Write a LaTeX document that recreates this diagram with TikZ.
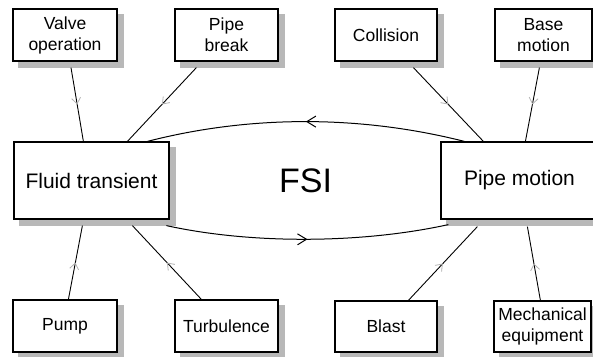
\documentclass[tikz,border=0pt]{standalone}
\usepackage{fontspec}
\setmainfont{Liberation Sans}
\usetikzlibrary{arrows.meta,calc,decorations.markings,backgrounds}

\definecolor{shadowgray}{RGB}{184,184,184}

\tikzset{
  box/.style={draw=black, line width=1.2pt, fill=white, inner sep=0pt, align=center,
    font=\fontsize{17.5}{21}\selectfont},
  bigbox/.style={box, font=\fontsize{21}{25}\selectfont},
  boxshadow/.style={fill=shadowgray},
  feed/.style={line width=0.9pt, postaction={decorate},
    decoration={markings, mark=at position 0.5 with
      {\arrow[black!30, line width=0.8pt]{Straight Barb[length=6pt,width=9pt]}}}},
  couple/.style={line width=1pt, postaction={decorate},
    decoration={markings, mark=at position 0.5 with
      {\arrow[black, line width=1pt]{Straight Barb[length=9pt,width=11pt]}}}},
}

\begin{document}
\begin{tikzpicture}[x=1pt, y=-1pt]
  \useasboundingbox (0,0) rectangle (593,356);

  % central subsystems
  \node[bigbox, minimum width=155pt, minimum height=77pt] (fluid) at (91.5,180.5) {Fluid transient};
  \node[bigbox, minimum width=157pt, minimum height=77pt] (pipe) at (519.5,180.5) {Pipe motion};
  \node[font=\fontsize{34}{40}\selectfont] (fsi) at (305.5,181) {FSI};

  % excitation sources
  \node[box, minimum width=104pt, minimum height=52pt] (valve) at (65,35) {Valve\\operation};
  \node[box, minimum width=103pt, minimum height=52pt] (break) at (226.5,35) {Pipe\\break};
  \node[box, minimum width=102pt, minimum height=52pt] (collision) at (386,35) {Collision};
  \node[box, minimum width=97pt, minimum height=52pt] (base) at (543.5,35) {Base\\motion};
  \node[box, minimum width=104pt, minimum height=52pt] (pump) at (65,326) {Pump};
  \node[box, minimum width=103pt, minimum height=52pt] (turb) at (226.5,326) {Turbulence};
  \node[box, minimum width=102pt, minimum height=51pt] (blast) at (386,326.5) {Blast};
  \node[box, minimum width=97pt, minimum height=51pt] (mech) at (542.5,326.5) {Mechanical\\equipment};

  % box shadows, offset down and to the right
  \begin{scope}[on background layer]
    \foreach \b in {fluid,pipe,valve,break,collision,base,pump,turb,blast,mech}
      \fill[boxshadow] ($(\b.south west)+(6,6)$) rectangle ($(\b.north east)+(6,6)$);
  \end{scope}

  % excitations acting on the fluid
  \draw[feed] ($(valve.south)+(6,6)$) -- ($(fluid.north west)+(70,0)$);
  \draw[feed] ($(break.south west)+(22,6)$) -- ($(fluid.north west)+(114,0)$);
  \draw[feed] ($(pump.north west)+(56,0)$) -- ($(fluid.south west)+(69,6)$);
  \draw[feed] ($(turb.north west)+(27,0)$) -- ($(fluid.south west)+(119,6)$);

  % excitations acting on the pipe
  \draw[feed] ($(collision.south west)+(79,6)$) -- ($(pipe.north west)+(43,0)$);
  \draw[feed] ($(base.south west)+(45,6)$) -- ($(pipe.north west)+(85,0)$);
  \draw[feed] ($(blast.north west)+(74,0)$) -- ($(pipe.south west)+(37,7)$);
  \draw[feed] ($(mech.north west)+(47,0)$) -- ($(pipe.south west)+(87,7)$);

  % two-way coupling
  \draw[couple] ($(pipe.north west)+(24,0)$) .. controls (360,115) and (250,115) .. ($(fluid.north west)+(134,0)$);
  \draw[couple] ($(fluid.south west)+(153,6)$) .. controls (250,244) and (360,244) .. ($(pipe.south west)+(8,5)$);
\end{tikzpicture}
\end{document}
